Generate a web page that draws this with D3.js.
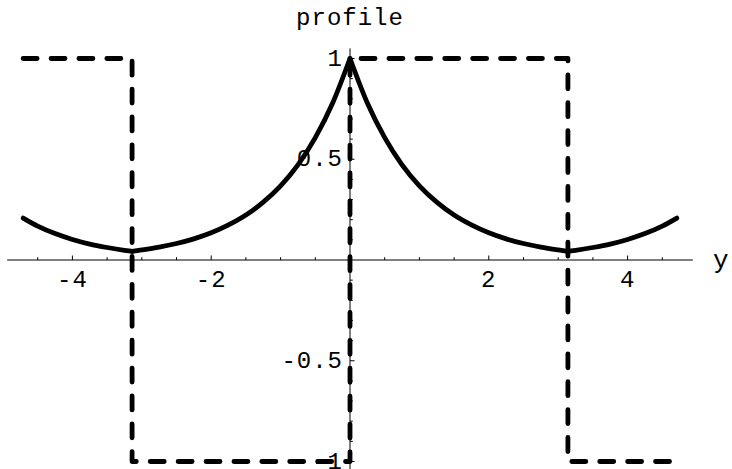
<!DOCTYPE html>
<html>
<head>
<meta charset="utf-8">
<script src="https://cdn.jsdelivr.net/npm/d3@7"></script>
<style>
  html, body { margin: 0; padding: 0; background: #fff; }
  svg { display: block; }
  text { font-family: "Liberation Mono", "Courier New", monospace; fill: #000; }
</style>
</head>
<body>
<svg id="chart" width="732" height="469"></svg>
<script>
// Smooth profile curve (solid) sampled along y
const profileY = [-4.71, -4.5, -4.25, -4.0, -3.75, -3.5, -3.25, -3.14, -3.0, -2.75, -2.5, -2.25,
  -2.0, -1.75, -1.5, -1.25, -1.0, -0.75, -0.5, -0.25, 0,
  0.25, 0.5, 0.75, 1.0, 1.25, 1.5, 1.75, 2.0, 2.25, 2.5, 2.75, 3.0, 3.14,
  3.25, 3.5, 3.75, 4.0, 4.25, 4.5, 4.71];
const profileValues = [0.208, 0.168, 0.131, 0.102, 0.079, 0.062, 0.048, 0.043, 0.050, 0.064, 0.082, 0.105,
  0.135, 0.174, 0.223, 0.287, 0.368, 0.472, 0.607, 0.779, 1.0,
  0.779, 0.607, 0.472, 0.368, 0.287, 0.223, 0.174, 0.135, 0.105, 0.082, 0.064, 0.050, 0.043,
  0.048, 0.062, 0.079, 0.102, 0.131, 0.168, 0.208];

// Square wave (dashed) as corner points
const stepY = [-4.71, -3.14, -3.14, 0, 0, 3.14, 3.14, 4.71];
const stepValues = [1, 1, -1, -1, 1, 1, -1, -1];

// Axis ticks
const xMajorTicks = [-4, -2, 2, 4];
const xTickLabels = ["-4", "-2", "2", "4"];
const xMinorTicks = [-4.5, -4, -3.5, -3, -2.5, -2, -1.5, -1, -0.5, 0.5, 1, 1.5, 2, 2.5, 3, 3.5, 4, 4.5];
const yMajorTicks = [-1, -0.5, 0.5, 1];
const yTickLabels = ["-1", "-0.5", "0.5", "1"];
const yMinorTicks = [-1, -0.9, -0.8, -0.7, -0.6, -0.5, -0.4, -0.3, -0.2, -0.1,
  0.1, 0.2, 0.3, 0.4, 0.5, 0.6, 0.7, 0.8, 0.9, 1];

const titleText = "profile";
const xAxisLabel = "y";

const svg = d3.select("#chart");

const x = d3.scaleLinear().domain([-4, 4]).range([72.4, 627.6]);
const y = d3.scaleLinear().domain([-1, 1]).range([461.5, 58.5]);

const fontSize = 24;
const spacing = 1;

// Axes through the origin
const axes = svg.append("g").attr("stroke", "#000").attr("stroke-width", 1);
axes.append("line")
  .attr("x1", x(-4.94)).attr("x2", x(4.94))
  .attr("y1", y(0)).attr("y2", y(0));
axes.append("line")
  .attr("x1", x(0)).attr("x2", x(0))
  .attr("y1", y(1.05)).attr("y2", y(-1.06));

// x ticks point upward
axes.selectAll(".xminor").data(xMinorTicks).join("line")
  .attr("x1", d => x(d)).attr("x2", d => x(d))
  .attr("y1", y(0)).attr("y2", d => y(0) - (xMajorTicks.includes(d) ? 4.5 : 2.8));

// y ticks point right
axes.selectAll(".yminor").data(yMinorTicks).join("line")
  .attr("y1", d => y(d)).attr("y2", d => y(d))
  .attr("x1", x(0)).attr("x2", d => x(0) + (Math.abs(d * 2 - Math.round(d * 2)) < 1e-9 ? 4.5 : 2.8));

// Tick labels
svg.append("g").selectAll("text").data(xMajorTicks).join("text")
  .attr("x", d => x(d)).attr("y", y(0) + 27)
  .attr("text-anchor", "middle").attr("font-size", fontSize).attr("letter-spacing", spacing)
  .text((d, i) => xTickLabels[i]);

svg.append("g").selectAll("text").data(yMajorTicks).join("text")
  .attr("x", x(0) - 7).attr("y", d => y(d) + 7)
  .attr("text-anchor", "end").attr("font-size", fontSize).attr("letter-spacing", spacing)
  .text((d, i) => yTickLabels[i]);

// Title and axis label
svg.append("text").attr("x", x(0)).attr("y", 25)
  .attr("text-anchor", "middle").attr("font-size", fontSize).attr("letter-spacing", spacing)
  .text(titleText);
svg.append("text").attr("x", 713).attr("y", 268)
  .attr("font-size", 26).text(xAxisLabel);

// Solid profile: split at cusps and draw each monotone piece smoothly
const pts = profileY.map((v, i) => [v, profileValues[i]]);
const pieces = [];
let cur = [pts[0]];
for (let i = 1; i < pts.length; i++) {
  cur.push(pts[i]);
  if (i < pts.length - 1) {
    const a = pts[i][1] - pts[i - 1][1], b = pts[i + 1][1] - pts[i][1];
    if (a * b < 0) { pieces.push(cur); cur = [pts[i]]; }
  }
}
pieces.push(cur);

const smooth = d3.line().x(d => x(d[0])).y(d => y(d[1])).curve(d3.curveMonotoneX);
svg.append("g").selectAll("path").data(pieces).join("path")
  .attr("d", smooth)
  .attr("fill", "none").attr("stroke", "#000")
  .attr("stroke-width", 4.8).attr("stroke-linejoin", "round").attr("stroke-linecap", "round");

// Dashed square wave
const stepLine = d3.line().x(d => x(d[0])).y(d => y(d[1]));
svg.append("path")
  .datum(stepY.map((v, i) => [v, stepValues[i]]))
  .attr("d", stepLine)
  .attr("fill", "none").attr("stroke", "#000")
  .attr("stroke-width", 4.8).attr("stroke-linecap", "round").attr("stroke-linejoin", "round")
  .attr("stroke-dasharray", "14 13.9");
</script>
</body>
</html>
